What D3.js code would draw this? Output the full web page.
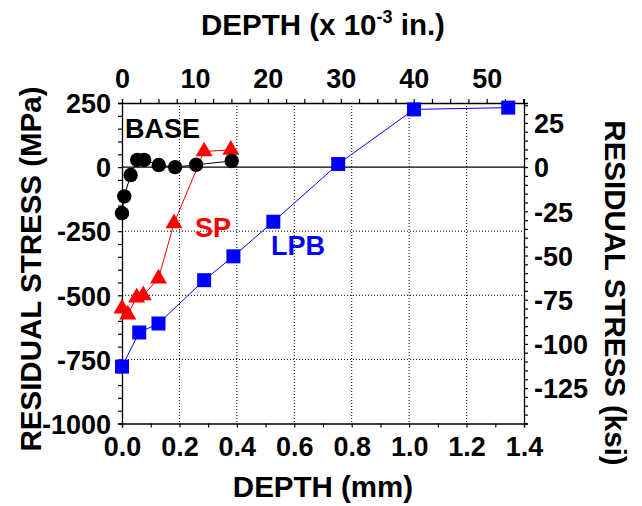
<!DOCTYPE html>
<html>
<head>
<meta charset="utf-8">
<script src="https://cdn.jsdelivr.net/npm/d3@7"></script>
<style>
html,body{margin:0;padding:0;background:#fff;}
svg{display:block;font-family:"Liberation Sans",Arial,sans-serif;font-weight:bold;}
</style>
</head>
<body>
<svg id="chart" width="642" height="506"></svg>
<script>
// ---- data ----
const baseDepth  = [0.0, 0.008, 0.030, 0.053, 0.077, 0.128, 0.185, 0.258, 0.382];
const baseStress = [-180, -114, -31, 28, 28, 8, 0, 9, 24];
const spDepth    = [0.0, 0.020, 0.051, 0.074, 0.127, 0.181, 0.286, 0.379];
const spStress   = [-552, -575, -509, -500, -435, -219, 61, 67];
const lpbDepth   = [0.0, 0.060, 0.127, 0.286, 0.388, 0.527, 0.753, 1.017, 1.345];
const lpbStress  = [-778, -645, -610, -441, -348, -213, 12, 225, 232];
const xTicksMM   = [0.0, 0.2, 0.4, 0.6, 0.8, 1.0, 1.2, 1.4];
const xTicksMil  = [0, 10, 20, 30, 40, 50];
const yTicksMPa  = [250, 0, -250, -500, -750, -1000];
const yTicksKsi  = [25, 0, -25, -50, -75, -100, -125];
const seriesNames = ["BASE", "SP", "LPB"];

const MM_PER_MIL = 0.0254;
const MPA_PER_KSI = 6.894757;

const svg = d3.select("#chart");
const L = 122, R = 524, T = 103, B = 423.5;

const x = d3.scaleLinear().domain([0, 1.4]).range([L, R]);
const y = d3.scaleLinear().domain([-1000, 250]).range([B, T]);
const xMil = d3.scaleLinear().domain([0, 1.4 / MM_PER_MIL]).range([L, R]);
const yKsi = d3.scaleLinear().domain([-1000 / MPA_PER_KSI, 250 / MPA_PER_KSI]).range([B, T]);

// grid
const g = svg.append("g");
g.selectAll(".vg").data(xTicksMM.filter(d => d > 0 && d < 1.4)).join("line")
  .attr("x1", d => x(d)).attr("x2", d => x(d)).attr("y1", T).attr("y2", B)
  .attr("stroke", "#000").attr("stroke-width", 1).attr("stroke-dasharray", "1,2");
g.selectAll(".hg").data(yTicksMPa.filter(d => d < 0 && d > -1000)).join("line")
  .attr("x1", L).attr("x2", R).attr("y1", d => y(d)).attr("y2", d => y(d))
  .attr("stroke", "#000").attr("stroke-width", 1).attr("stroke-dasharray", "1,2");
g.append("line").attr("x1", L).attr("x2", R).attr("y1", y(0)).attr("y2", y(0))
  .attr("stroke", "#000").attr("stroke-width", 1.2);

// axes
const fs = 27;
function styleAxis(sel) {
  sel.select(".domain").attr("stroke", "#000").attr("stroke-width", 1.3);
  sel.selectAll(".tick line").attr("stroke", "#000").attr("stroke-width", 1.2);
  sel.selectAll("text").attr("font-size", fs).attr("font-weight", "bold")
    .attr("font-family", "Liberation Sans, Arial, sans-serif").attr("fill", "#000");
}
const minorMM = d3.range(0, 1.4001, 0.1);
const minorMPa = d3.range(-1000, 250.1, 50);
const minorKsi = d3.range(-145, 36.3, 5);
const minorMil = d3.range(0, 55.2, 2.5);

// bottom
const gb = svg.append("g").attr("transform", `translate(0,${B})`)
  .call(d3.axisBottom(x).tickValues(minorMM).tickSize(4).tickPadding(9)
    .tickFormat(d => { const r = Math.round(d * 10) / 10; return (Math.round(r*10) % 2 === 0) ? d3.format(".1f")(r) : ""; }));
styleAxis(gb);
// left
const gl = svg.append("g").attr("transform", `translate(${L},0)`)
  .call(d3.axisLeft(y).tickValues(minorMPa).tickSize(4).tickPadding(7)
    .tickFormat(d => yTicksMPa.includes(d) ? d : ""));
styleAxis(gl);
gl.selectAll("text").attr("dy", "0.36em");
// right
const gr = svg.append("g").attr("transform", `translate(${R},0)`)
  .call(d3.axisRight(yKsi).tickValues(minorKsi).tickSize(4).tickPadding(6)
    .tickFormat(d => yTicksKsi.includes(d) ? d : ""));
styleAxis(gr);
gr.selectAll("text").attr("dy", "0.36em");
// top
const gt = svg.append("g").attr("transform", `translate(0,${T})`)
  .call(d3.axisTop(xMil).tickValues(minorMil).tickSize(4).tickPadding(11)
    .tickFormat(d => xTicksMil.includes(d) ? d : ""));
styleAxis(gt);

// axis titles
const tfs = 29.5;
svg.append("text").attr("x", (L + R) / 2).attr("y", 497).attr("text-anchor", "middle")
  .attr("font-size", tfs).text("DEPTH (mm)");
const tt = svg.append("text").attr("x", 323).attr("y", 35).attr("text-anchor", "middle").attr("font-size", tfs);
tt.append("tspan").text("DEPTH (x 10");
tt.append("tspan").attr("font-size", 18).attr("dy", -12).text("-3");
tt.append("tspan").attr("dy", 12).text(" in.)");
svg.append("text").attr("transform", `translate(41,269) rotate(-90)`)
  .attr("text-anchor", "middle").attr("font-size", tfs).text("RESIDUAL STRESS (MPa)");
svg.append("text").attr("transform", `translate(605,293) rotate(90)`)
  .attr("text-anchor", "middle").attr("font-size", tfs).text("RESIDUAL STRESS (ksi)");

// series
const line = d3.line().x(d => x(d[0])).y(d => y(d[1]));
const base = baseDepth.map((d, i) => [d, baseStress[i]]);
const sp = spDepth.map((d, i) => [d, spStress[i]]);
const lpb = lpbDepth.map((d, i) => [d, lpbStress[i]]);

svg.append("path").datum(lpb).attr("d", line).attr("fill", "none").attr("stroke", "#0000ff").attr("stroke-width", 1);
svg.append("path").datum(sp).attr("d", line).attr("fill", "none").attr("stroke", "#ff0000").attr("stroke-width", 1);
svg.append("path").datum(base).attr("d", line).attr("fill", "none").attr("stroke", "#000").attr("stroke-width", 1);

svg.selectAll(".sq").data(lpb).join("rect")
  .attr("x", d => x(d[0]) - 7).attr("y", d => y(d[1]) - 7).attr("width", 14).attr("height", 14).attr("fill", "#0000ff");
const tri = d3.symbol().type(d3.symbolTriangle).size(125);
svg.selectAll(".tr").data(sp).join("path")
  .attr("transform", d => `translate(${x(d[0])},${y(d[1])})`).attr("d", tri).attr("fill", "#ff0000");
svg.selectAll(".ci").data(base).join("circle")
  .attr("cx", d => x(d[0])).attr("cy", d => y(d[1])).attr("r", 7.2).attr("fill", "#000");

// series labels
svg.append("text").attr("x", 125).attr("y", 138).attr("font-size", 27).attr("fill", "#000").text(seriesNames[0]);
svg.append("text").attr("x", 195).attr("y", 237).attr("font-size", 27).attr("fill", "#ff0000").text(seriesNames[1]);
svg.append("text").attr("x", 271).attr("y", 255).attr("font-size", 27).attr("fill", "#0000ff").text(seriesNames[2]);
</script>
</body>
</html>
